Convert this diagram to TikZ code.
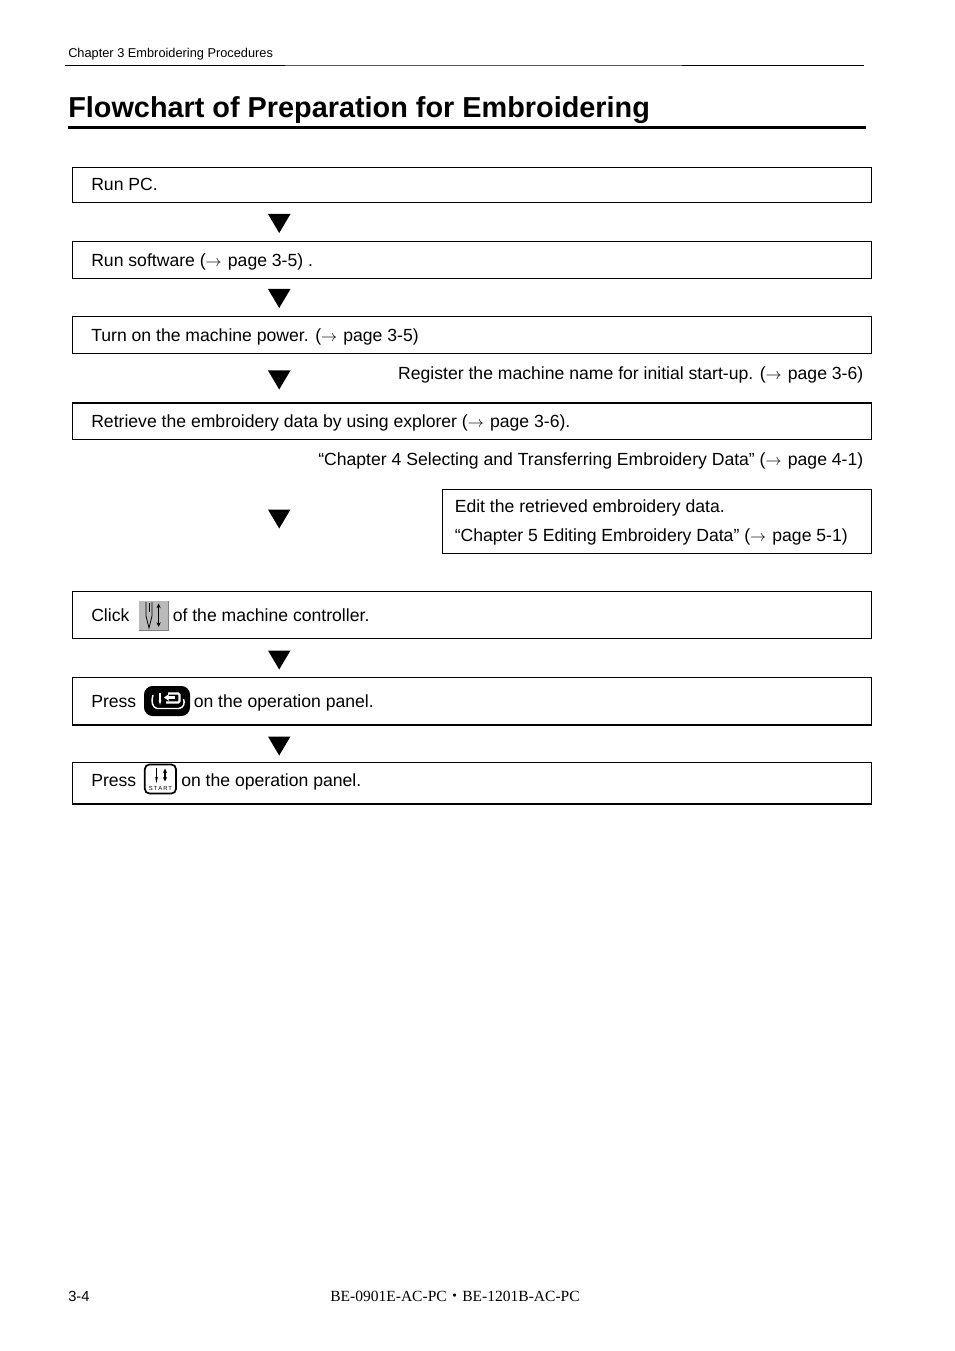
\documentclass[tikz,border=0pt]{standalone}
\usepackage{fontspec}
\setmainfont{Liberation Sans}
\newfontfamily\footfont{Liberation Serif}
\newfontfamily\cjkfont{Noto Sans CJK JP}
\usetikzlibrary{arrows.meta}
\newcommand{\downtri}[1]{\fill[black] (268,#1) -- (290.5,#1) -- (279.2,#1+19) -- cycle;}
\newcommand{\pgarrow}{$\rightarrow$\kern1pt}
\tikzset{
  x=0.75pt,y=-0.75pt,
  flowbox/.style={draw=black,line width=0.75pt,fill=none,inner sep=0pt,anchor=north west},
  body/.style={anchor=base west,inner sep=0pt,font=\fontsize{13.2pt}{16pt}\selectfont},
  bodyr/.style={anchor=base east,inner sep=0pt,font=\fontsize{13.2pt}{16pt}\selectfont},
  twoway/.style={{Stealth[length=3.5pt,width=3.2pt]}-{Stealth[length=3.5pt,width=3.2pt]},line width=0.7pt},
}
\begin{document}
\begin{tikzpicture}
\useasboundingbox[fill=white] (0,0) rectangle (954,1351);
% header
\node[anchor=base west,inner sep=0pt,font=\fontsize{9.59pt}{11pt}\selectfont] (hdr) at (68,58) {Chapter 3 Embroidering Procedures};
\draw[line width=0.75pt,color=black!65] (65,65.5) -- (864,65.5);
\draw[line width=0.8pt,color=black] (65,65.5) -- (285,65.5);
\draw[line width=0.8pt,color=black] (682,65.5) -- (864,65.5);
\node[anchor=base west,inner sep=0pt,font=\bfseries\fontsize{21.63pt}{26pt}\selectfont] (title) at (68,118) {Flowchart of Preparation for Embroidering};
\draw[line width=2.4pt] (68,127.5) -- (866,127.5);
% boxes
\node[flowbox,minimum width=799*0.75pt,minimum height=35*0.75pt] (b1) at (72,167) {};
\node[flowbox,minimum width=799*0.75pt,minimum height=37*0.75pt] (b2) at (72,241) {};
\node[flowbox,minimum width=799*0.75pt,minimum height=37*0.75pt] (b3) at (72,316) {};
\node[flowbox,minimum width=799*0.75pt,minimum height=36*0.75pt] (b4) at (72,403) {};
\node[flowbox,minimum width=429*0.75pt,minimum height=64*0.75pt] (b5) at (442,489) {};
\node[flowbox,minimum width=799*0.75pt,minimum height=47*0.75pt] (b6) at (72,591) {};
\node[flowbox,minimum width=799*0.75pt,minimum height=46.5*0.75pt] (b7) at (72,677) {};
\node[flowbox,minimum width=799*0.75pt,minimum height=40.5*0.75pt] (b8) at (72,762) {};
% thicker edges
\draw[line width=1.3pt] (b4.north west) -- (b4.north east);
\draw[line width=1.5pt] (b7.south west) -- (b7.south east);
\draw[line width=1.5pt] (b8.south west) -- (b8.south east);
% triangles
\downtri{214}
\downtri{289}
\downtri{370.5}
\downtri{509.5}
\downtri{650.5}
\downtri{736.5}
% texts
\node[body] (t1) at (91,190.5) {Run PC.};
\node[body] (t2) at (91,266.5) {Run software (\pgarrow\ page 3-5) .};
\node[body] (t3) at (91,341.5) {Turn on the machine power. (\pgarrow\ page 3-5)};
\node[bodyr] (t3b) at (863.5,379.5) {Register the machine name for initial start-up. (\pgarrow\ page 3-6)};
\node[body] (t4) at (91,427.5) {Retrieve the embroidery data by using explorer (\pgarrow\ page 3-6).};
\node[bodyr] (t4b) at (863.5,465.5) {“Chapter 4 Selecting and Transferring Embroidery Data” (\pgarrow\ page 4-1)};
\node[body] (t5a) at (454.5,512.5) {Edit the retrieved embroidery data.};
\node[body] (t5b) at (454.5,541.5) {“Chapter 5 Editing Embroidery Data” (\pgarrow\ page 5-1)};
\node[body] (t6a) at (91,621.5) {Click};
\node[body] (t6b) at (172.5,621.5) {of the machine controller.};
\node[body] (t7a) at (91,707.5) {Press};
\node[body] (t7b) at (193.5,707.5) {on the operation panel.};
\node[body] (t8a) at (91,786.5) {Press};
\node[body] (t8b) at (181,786.5) {on the operation panel.};
% icon: needle up/down
\fill[black!27] (138.5,600.5) rectangle (168,630);
\draw[black!50,line width=0.6pt] (138.5,630) -- (168,630) -- (168,600.5);
\draw[black,line width=0.6pt] (146,602) -- (146,616) -- (149,628) -- (152,616) -- (152,602);
\draw[black,line width=0.6pt] (149,603) -- (149,612);
\draw[twoway] (158.6,603.5) -- (158.6,627);
% icon: black key
\fill[black,rounded corners=6.5pt] (144,686) rectangle (190,716);
\draw[white,line width=1.1pt] (153,695) .. controls (151,701) and (152,707.5) .. (157,708.5) -- (179,708.5) .. controls (184,707.5) and (185,703) .. (183.5,699);
\draw[white,line width=1pt] (160,693) -- (160,700);
\fill[white] (158.6,700) -- (161.4,700) -- (160,705) -- cycle;
\draw[white,line width=1.6pt,rounded corners=1pt] (168,693.5) -- (179.5,693.5) -- (179.5,702.5) -- (166,702.5);
\draw[white,-{Stealth[length=4pt,width=5.5pt]},line width=1.6pt] (175,697.5) -- (164,697.5);
% icon: start key
\draw[black,line width=1.3pt,rounded corners=3.5pt,fill=white] (144.8,764.5) rectangle (176,793.5);
\draw[black,line width=0.8pt] (156.5,768) -- (156.5,777);
\fill[black] (155.2,777) -- (157.8,777) -- (156.5,783) -- cycle;
\draw[twoway,line width=0.9pt] (165,768.5) -- (165,781.5);
\node[inner sep=0pt,font=\fontsize{4.4pt}{5pt}\selectfont] (startlabel) at (160.5,788) {S\,T\,A\,R\,T};
% footer
\node[anchor=base west,inner sep=0pt,font=\fontsize{11pt}{13pt}\selectfont] (pg) at (68,1301) {3-4};
\node[anchor=base west,inner sep=0pt,font=\footfont\fontsize{11.65pt}{13pt}\selectfont] (ft) at (330,1301) {BE-0901E-AC-PC{\cjkfont ・}BE-1201B-AC-PC};
\end{tikzpicture}
\end{document}
